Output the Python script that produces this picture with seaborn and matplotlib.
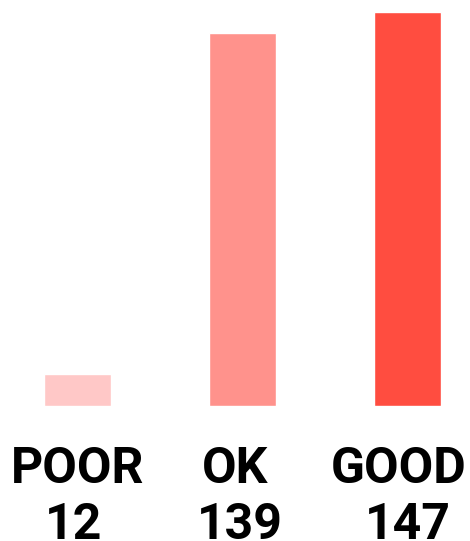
import matplotlib
matplotlib.use('Agg')
import matplotlib.pyplot as plt
import matplotlib.transforms as mtransforms
import pandas as pd
import seaborn as sns

# 数据
categories = ['POOR', 'OK', 'GOOD']
counts = [12, 139, 147]
bar_colors = ['#FFC8C7', '#FF928C', '#FF4D40']

df = pd.DataFrame({'rating': categories, 'count': counts})

sns.set_theme(style='white')
plt.rcParams['font.family'] = ['Roboto', 'DejaVu Sans']

W, H = 470, 541
fig = plt.figure(figsize=(W / 100, H / 100), dpi=100)
# 轴区域: 底部 y=406, 顶部 y=12 (像素)
ax = fig.add_axes([0, (H - 406) / H, 1, 394 / H])

sns.barplot(data=df, x='rating', y='count', hue='rating', palette=bar_colors,
            width=67 / 165, legend=False, ax=ax, saturation=1)

ax.set_ylim(0, max(counts))
ax.set_xlim(-77.5 / 165, 2 + 62.5 / 165)
ax.set_axis_off()

# 标签 (水平偏移, 像素)
name_dx = [0, -7, -9]
num_dx = [-4, -3, 0]
trans = mtransforms.blended_transform_factory(ax.transData, ax.transAxes)
for i, (cat, val) in enumerate(zip(categories, counts)):
    t1 = trans + mtransforms.ScaledTranslation(name_dx[i] / 100, 0, fig.dpi_scale_trans)
    t2 = trans + mtransforms.ScaledTranslation(num_dx[i] / 100, 0, fig.dpi_scale_trans)
    ax.text(i, -77 / 394, cat, transform=t1, ha='center', va='baseline',
            fontsize=36, fontweight='bold', color='black')
    ax.text(i, -133 / 394, str(val), transform=t2, ha='center', va='baseline',
            fontsize=36, fontweight='bold', color='black')

fig.savefig('out.png', dpi=100)
plt.close(fig)
